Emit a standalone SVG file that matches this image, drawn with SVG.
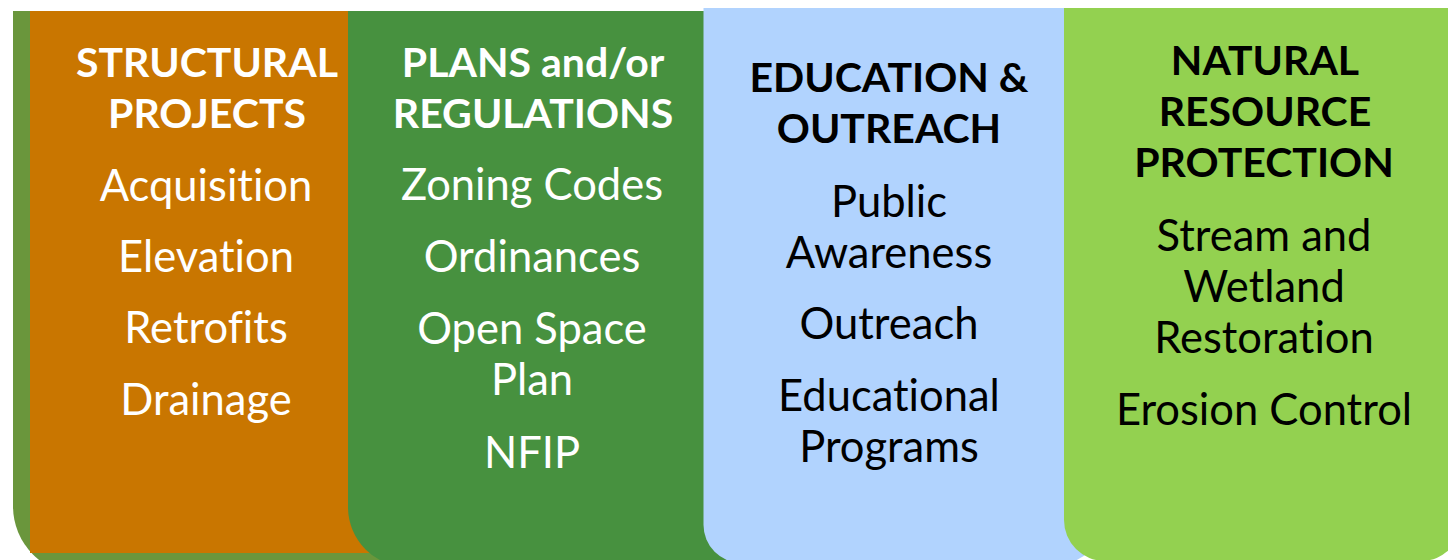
<svg xmlns="http://www.w3.org/2000/svg" width="1448" height="560" viewBox="0 0 1448 560">
  <style>
    text { font-family: Lato, "Open Sans", "Liberation Sans", sans-serif; text-anchor: middle; font-variant-ligatures: none; font-feature-settings: "liga" 0; }
    .hd { font-weight: 700; font-size: 41px; }
    .it { font-weight: 400; font-size: 43.5px; }
    .w { fill: #ffffff; }
    .k { fill: #000000; }
  </style>
  <rect width="1448" height="560" fill="#ffffff"/>
  <g id="backdrop">
    <path d="M13 11 H720 V575 H82 A69 69 0 0 1 13 506 Z" fill="#6A963C"/>
  </g>
  <g id="structural">
    <rect x="30" y="11" width="360" height="542" fill="#C97600"/>
    <text class="hd w" x="207" y="77">STRUCTURAL</text>
    <text class="hd w" x="207" y="128">PROJECTS</text>
    <text class="it w" x="206" y="201">Acquisition</text>
    <text class="it w" x="206" y="272">Elevation</text>
    <text class="it w" x="206" y="343">Retrofits</text>
    <text class="it w" x="206" y="415">Drainage</text>
  </g>
  <g id="plans">
    <path d="M348 11 H730 V567 H408 A60 60 0 0 1 348 507 Z" fill="#47913F"/>
    <text class="hd w" x="533" y="77">PLANS and/or</text>
    <text class="hd w" x="533" y="128">REGULATIONS</text>
    <text class="it w" x="532" y="200">Zoning Codes</text>
    <text class="it w" x="532" y="272">Ordinances</text>
    <text class="it w" x="532" y="344">Open Space</text>
    <text class="it w" x="532" y="395">Plan</text>
    <text class="it w" x="532" y="468">NFIP</text>
  </g>
  <g id="education">
    <path d="M703.5 8 H1100 V525 A38 38 0 0 1 1062 563 H741.5 A38 38 0 0 1 703.5 525 Z" fill="#B1D3FE"/>
    <text class="hd k" x="889" y="92">EDUCATION &amp;</text>
    <text class="hd k" x="889" y="143">OUTREACH</text>
    <text class="it k" x="889" y="217">Public</text>
    <text class="it k" x="889" y="268">Awareness</text>
    <text class="it k" x="889" y="339">Outreach</text>
    <text class="it k" x="889" y="411">Educational</text>
    <text class="it k" x="889" y="462">Programs</text>
  </g>
  <g id="natural">
    <path d="M1064 8 H1462 V520 A41 41 0 0 1 1421 561 H1105 A41 41 0 0 1 1064 520 Z" fill="#93D150"/>
    <text class="hd k" x="1265" y="75">NATURAL</text>
    <text class="hd k" x="1265" y="126">RESOURCE</text>
    <text class="hd k" x="1264" y="177">PROTECTION</text>
    <text class="it k" x="1264" y="251">Stream and</text>
    <text class="it k" x="1264" y="302">Wetland</text>
    <text class="it k" x="1264" y="353">Restoration</text>
    <text class="it k" x="1264" y="425">Erosion Control</text>
  </g>
  <g id="connectors"/>
</svg>
